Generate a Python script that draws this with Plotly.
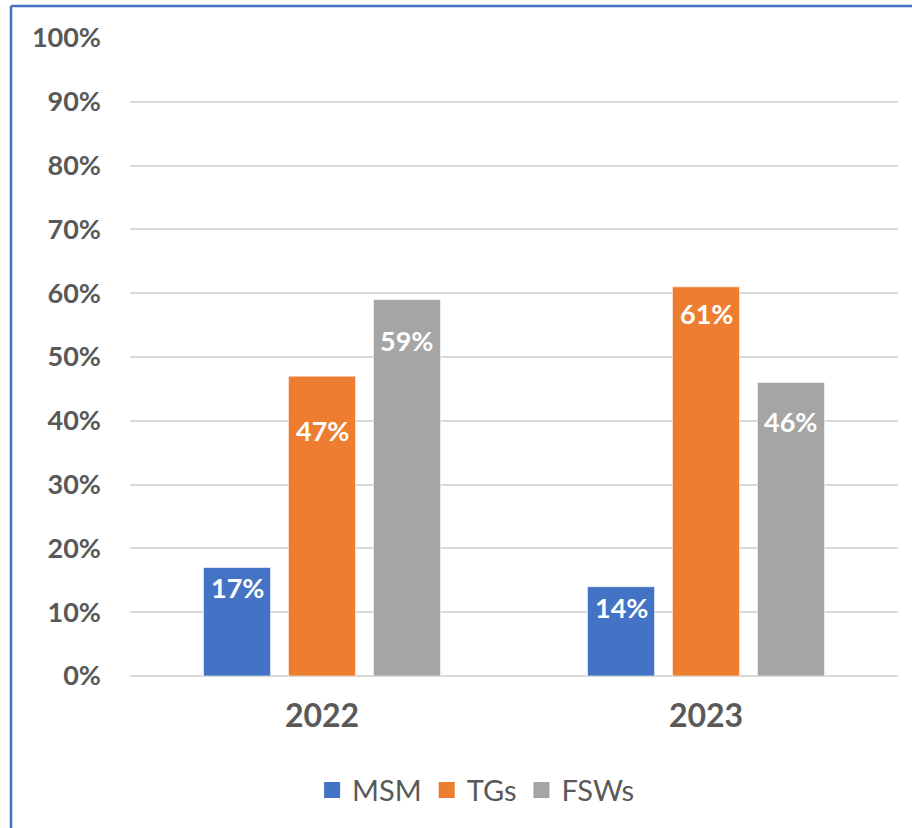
import plotly.graph_objects as go

years = ["2022", "2023"]
series_names = ["MSM", "TGs", "FSWs"]
msm = [17, 14]
tgs = [47, 61]
fsws = [59, 46]
tick_vals = [0, 10, 20, 30, 40, 50, 60, 70, 80, 90, 100]
tick_text = ["0%", "10%", "20%", "30%", "40%", "50%", "60%", "70%", "80%", "90%", "100%"]

colors = ["#4472C4", "#ED7D31", "#A5A5A5"]
values = [msm, tgs, fsws]
# pixel drop of each data label below its bar top (style, per series per year)
label_drop = [[20, 21], [54, 27], [41, 39]]

FONT = "Lato"
BARGAP = 0.336
W, H = 912, 828
ML, MR, MT, MB = 130, 14, 38, 152

fig = go.Figure()
for name, vals, col in zip(series_names, values, colors):
    fig.add_trace(go.Bar(
        name=name, x=years, y=vals, marker_color=col,
        marker_line=dict(color="rgba(255,255,255,0.6)", width=1),
        showlegend=False,
    ))
# legend proxies with larger square swatches
for name, col in zip(series_names, colors):
    fig.add_trace(go.Scatter(
        name=name, x=[None], y=[None], mode="markers",
        marker=dict(symbol="square", size=16, color=col),
        showlegend=True,
    ))

n = len(series_names)
slot = (1 - BARGAP) / n
for j, vals in enumerate(values):
    for i, v in enumerate(vals):
        fig.add_annotation(
            x=i + (j - (n - 1) / 2) * slot, y=v, xref="x", yref="y",
            text=f"{v}%", showarrow=False, yshift=-label_drop[j][i],
            yanchor="middle",
            font=dict(family=FONT, size=27, color="white", weight="bold"),
        )

pw = W - ML - MR
ph = H - MT - MB
x_left = (11 - ML) / pw
y_top = (H - MB - 6) / ph
x_right = (W + 5 - ML) / pw
y_bot = -(MB + 5) / ph
fig.add_shape(type="line", xref="paper", yref="paper", x0=x_left, x1=x_left,
              y0=y_bot, y1=y_top, line=dict(color="#4472C4", width=2.5))
fig.add_shape(type="line", xref="paper", yref="paper", x0=x_left, x1=x_right,
              y0=y_top, y1=y_top, line=dict(color="#4472C4", width=2.5))

fig.update_layout(
    width=W, height=H,
    margin=dict(l=ML, r=MR, t=MT, b=MB),
    paper_bgcolor="white", plot_bgcolor="white",
    barmode="group", bargap=BARGAP, bargroupgap=0.21,
    font=dict(family=FONT, color="#595959"),
    showlegend=True,
    legend=dict(orientation="h", x=0.45, xanchor="center", y=-0.179, yanchor="middle",
                font=dict(family=FONT, size=29, color="#595959"),
                itemsizing="trace", itemwidth=30, tracegroupgap=0),
    xaxis=dict(
        type="category", showgrid=False, showline=False, ticks="",
        tickfont=dict(family=FONT, size=32, color="#595959", weight="bold"),
        ticklabelstandoff=18,
    ),
    yaxis=dict(
        range=[0, 100], tickvals=tick_vals, ticktext=tick_text,
        showgrid=True, gridcolor="#D9D9D9", gridwidth=1.5,
        zeroline=True, zerolinecolor="#D9D9D9", zerolinewidth=2,
        showline=False, ticks="",
        tickfont=dict(family=FONT, size=27, color="#595959", weight="bold"),
        ticklabelstandoff=28,
    ),
)

fig.write_html("out.html", config={"displayModeBar": False},
               post_script="document.body.style.margin='0';")
